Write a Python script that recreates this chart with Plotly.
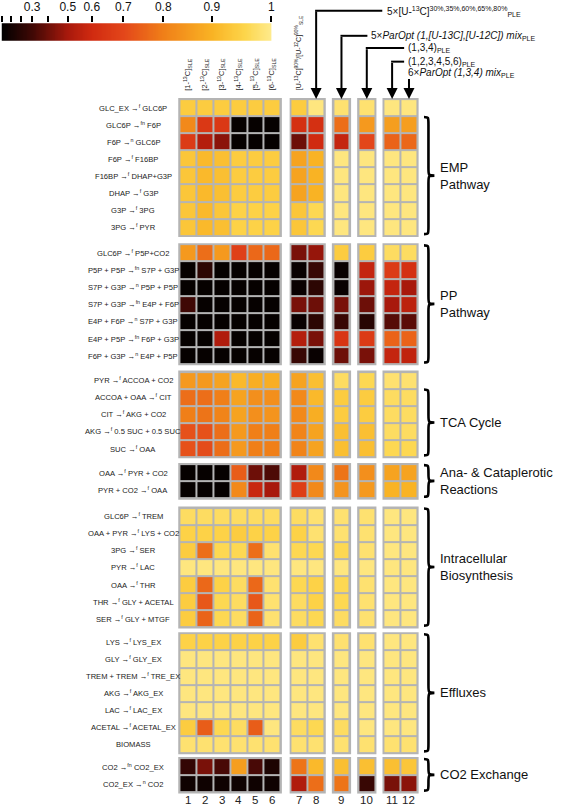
import numpy as np
import plotly.graph_objects as go

# colour key: value -> position along the bar (the key is not linear)
scale_vals = [0, 0.1, 0.2, 0.3, 0.4, 0.5, 0.6, 0.7, 0.8, 0.9, 1]
scale_pos = [0, 0.034, 0.070, 0.113, 0.171, 0.245, 0.334, 0.451, 0.599, 0.779, 1.0]
scale_text = ["0", "", "", "0.3", "", "0.5", "0.6", "0.7", "0.8", "0.9", "1"]

col_numbers = [str(i) for i in range(1, 13)]
col_headers = [
    "[1-<sup>13</sup>C]<sub>SLE</sub>",
    "[2-<sup>13</sup>C]<sub>SLE</sub>",
    "[3-<sup>13</sup>C]<sub>SLE</sub>",
    "[4-<sup>13</sup>C]<sub>SLE</sub>",
    "[5-<sup>13</sup>C]<sub>SLE</sub>",
    "[6-<sup>13</sup>C]<sub>SLE</sub>",
    "[U-<sup>13</sup>C]<sup>90%</sup>/[U-<sup>12</sup>C]<sup>90%</sup><sub>SLE</sub>",
]

F = "→<sup>f</sup>"
FN = "→<sup>fn</sup>"
N = "→<sup>n</sup>"

emp_rows = [
    f"GLC_EX {F} GLC6P", f"GLC6P {FN} F6P", f"F6P {N} GLC6P", f"F6P {F} F16BP",
    f"F16BP {F} DHAP+G3P", f"DHAP {F} G3P", f"G3P {F} 3PG", f"3PG {F} PYR",
]
emp_vals = [
    [0.94, 0.94, 0.94, 0.94, 0.94, 0.94, 0.94, 0.99, 0.98, 0.98, 0.99, 0.99],
    [0.82, 0.65, 0.65, 0.03, 0.03, 0.03, 0.62, 0.62, 0.77, 0.85, 0.86, 0.86],
    [0.66, 0.53, 0.45, 0.03, 0.03, 0.03, 0.40, 0.60, 0.57, 0.70, 0.75, 0.76],
    [0.93, 0.91, 0.92, 0.94, 0.94, 0.94, 0.87, 0.90, 0.99, 0.99, 0.99, 0.99],
    [0.93, 0.91, 0.92, 0.94, 0.94, 0.94, 0.87, 0.90, 0.99, 0.99, 0.99, 0.99],
    [0.93, 0.91, 0.92, 0.94, 0.94, 0.94, 0.87, 0.90, 0.99, 0.99, 0.99, 0.99],
    [0.93, 0.91, 0.93, 0.95, 0.95, 0.95, 0.93, 0.96, 0.99, 0.99, 0.99, 0.99],
    [0.93, 0.91, 0.92, 0.95, 0.95, 0.95, 0.93, 0.96, 0.99, 0.99, 0.99, 0.99],
]

pp_rows = [
    f"GLC6P {F} P5P+CO2", f"P5P + P5P {FN} S7P + G3P", f"S7P + G3P {N} P5P + P5P",
    f"S7P + G3P {FN} E4P + F6P", f"E4P + F6P {N} S7P + G3P",
    f"E4P + P5P {FN} F6P + G3P", f"F6P + G3P {N} E4P + P5P",
]
pp_vals = [
    [0.85, 0.77, 0.85, 0.68, 0.76, 0.76, 0.42, 0.47, 0.94, 0.94, 0.97, 0.97],
    [0.03, 0.22, 0.03, 0.03, 0.03, 0.03, 0.05, 0.27, 0.05, 0.57, 0.66, 0.62],
    [0.03, 0.03, 0.03, 0.03, 0.03, 0.03, 0.05, 0.22, 0.05, 0.48, 0.57, 0.50],
    [0.30, 0.03, 0.03, 0.03, 0.03, 0.03, 0.42, 0.40, 0.42, 0.40, 0.50, 0.55],
    [0.03, 0.03, 0.03, 0.03, 0.03, 0.03, 0.05, 0.22, 0.27, 0.20, 0.35, 0.36],
    [0.03, 0.03, 0.52, 0.03, 0.03, 0.03, 0.53, 0.42, 0.64, 0.66, 0.75, 0.75],
    [0.03, 0.03, 0.03, 0.03, 0.03, 0.03, 0.27, 0.05, 0.40, 0.42, 0.57, 0.56],
]

tca_rows = [
    f"PYR {F} ACCOA + CO2", f"ACCOA + OAA {F} CIT", f"CIT {F} AKG + CO2",
    f"AKG {F} 0.5 SUC + 0.5 SUC", f"SUC {F} OAA",
]
tca_vals = [
    [0.85, 0.85, 0.87, 0.91, 0.89, 0.89, 0.87, 0.92, 0.97, 0.96, 0.98, 0.98],
    [0.77, 0.77, 0.80, 0.87, 0.83, 0.83, 0.82, 0.91, 0.94, 0.94, 0.97, 0.97],
    [0.80, 0.78, 0.81, 0.87, 0.83, 0.84, 0.82, 0.89, 0.94, 0.94, 0.97, 0.97],
    [0.72, 0.72, 0.77, 0.85, 0.80, 0.80, 0.81, 0.87, 0.92, 0.92, 0.97, 0.97],
    [0.72, 0.71, 0.77, 0.85, 0.80, 0.80, 0.81, 0.87, 0.92, 0.92, 0.96, 0.96],
]

ana_rows = [f"OAA {F} PYR + CO2", f"PYR + CO2 {F} OAA"]
ana_vals = [
    [0.03, 0.03, 0.03, 0.74, 0.40, 0.33, 0.52, 0.82, 0.78, 0.83, 0.87, 0.87],
    [0.03, 0.03, 0.03, 0.82, 0.58, 0.50, 0.67, 0.82, 0.84, 0.85, 0.90, 0.90],
]

bio_rows = [
    f"GLC6P {F} TREM", f"OAA + PYR {F} LYS + CO2", f"3PG {F} SER", f"PYR {F} LAC",
    f"OAA {F} THR", f"THR {F} GLY + ACETAL", f"SER {F} GLY + MTGF",
]
bio_vals = [
    [0.97, 0.97, 0.97, 0.97, 0.97, 0.97, 0.97, 0.98, 0.98, 0.98, 0.99, 0.99],
    [0.95, 0.95, 0.95, 0.94, 0.95, 0.95, 0.95, 0.98, 0.98, 0.98, 0.99, 0.99],
    [0.94, 0.77, 0.96, 0.96, 0.77, 0.98, 0.96, 0.96, 0.96, 0.98, 0.99, 0.99],
    [0.99, 0.99, 0.99, 0.99, 0.99, 0.99, 0.99, 0.99, 0.99, 0.99, 0.99, 0.99],
    [0.94, 0.76, 0.95, 0.97, 0.76, 0.98, 0.96, 0.95, 0.96, 0.98, 0.99, 0.99],
    [0.94, 0.73, 0.96, 0.97, 0.73, 0.98, 0.97, 0.95, 0.96, 0.98, 0.99, 0.99],
    [0.94, 0.75, 0.96, 0.97, 0.75, 0.98, 0.97, 0.96, 0.97, 0.98, 0.99, 0.99],
]

eff_rows = [
    f"LYS {F} LYS_EX", f"GLY {F} GLY_EX", f"TREM + TREM {F} TRE_EX", f"AKG {F} AKG_EX",
    f"LAC {F} LAC_EX", f"ACETAL {F} ACETAL_EX", "BIOMASS",
]
eff_vals = [
    [0.95, 0.95, 0.95, 0.95, 0.95, 0.95, 0.94, 0.98, 0.98, 0.98, 0.99, 0.99],
    [0.99, 0.99, 0.99, 0.99, 0.99, 0.99, 0.99, 0.99, 0.99, 0.99, 0.99, 0.99],
    [0.99, 0.99, 0.99, 0.99, 0.99, 0.99, 0.99, 0.99, 0.99, 0.99, 0.99, 0.99],
    [0.99, 0.99, 0.99, 0.99, 0.99, 0.99, 0.99, 0.99, 0.99, 0.99, 0.99, 0.99],
    [0.99, 0.99, 0.99, 0.99, 0.99, 0.99, 0.99, 0.99, 0.99, 0.99, 0.99, 0.99],
    [0.94, 0.74, 0.96, 0.97, 0.74, 0.99, 0.97, 0.96, 0.97, 0.99, 0.99, 0.99],
    [0.98, 0.98, 0.98, 0.98, 0.98, 0.98, 0.98, 0.98, 0.98, 0.98, 0.98, 0.98],
]

co2_rows = [f"CO2 {FN} CO2_EX", f"CO2_EX {N} CO2"]
co2_vals = [
    [0.25, 0.42, 0.32, 0.86, 0.32, 0.15, 0.78, 0.91, 0.92, 0.92, 0.92, 0.93],
    [0.08, 0.08, 0.08, 0.08, 0.08, 0.08, 0.52, 0.77, 0.78, 0.27, 0.42, 0.45],
]

group_labels = [
    "EMP<br>Pathway", "PP<br>Pathway", "TCA Cycle", "Ana- & Cataplerotic<br>Reactions",
    "Intracellular<br>Biosynthesis", "Effluxes", "CO2 Exchange",
]
blocks = [
    (emp_rows, emp_vals), (pp_rows, pp_vals), (tca_rows, tca_vals), (ana_rows, ana_vals),
    (bio_rows, bio_vals), (eff_rows, eff_vals), (co2_rows, co2_vals),
]

top_labels = [
    "5×[U-<sup>13</sup>C]<sup>30%,35%,60%,65%,80%</sup><sub>PLE</sub>",
    "5×<i>ParOpt (1,[U-13C],[U-12C]) mix</i><sub>PLE</sub>",
    "(1,3,4)<sub>PLE</sub>",
    "(1,2,3,4,5,6)<sub>PLE</sub>",
    "6×<i>ParOpt (1,3,4) mix</i><sub>PLE</sub>",
]

# ---- layout geometry (pixels -> axis units) ----
W, H = 567, 806
X0_PX, CELL_W = 180.7, 17.0
Y0_PX, CELL_H = 94.7, 17.2


def px2x(p):
    return (p - X0_PX) / CELL_W


def px2y(p):
    return (p - Y0_PX) / CELL_H


col_starts = [0, 1, 2, 3, 4, 5, 6.6, 7.6, 9.1, 10.6, 12.1, 13.1]
col_groups = [(0, 6), (6.6, 8.6), (9.1, 10.1), (10.6, 11.6), (12.1, 14.1)]
block_gaps = [0.506, 0.436, 0.419, 0.54, 0.36, 0.297]
brace_start = [1, 0, 1, 0, 0, 0, 0]

cs_colors = ["#000000", "#3f0805", "#a8190c", "#d02a10", "#e3461a",
             "#f07f18", "#f9b324", "#fdd54a", "#feeb8e"]
cs_pos = [0.0, 0.113, 0.245, 0.334, 0.451, 0.599, 0.779, 0.9, 1.0]
colorscale = [[p, c] for p, c in zip(cs_pos, cs_colors)]

# x bins (gap bins left empty)
x_edges = sorted(set(col_starts + [c + 1 for c in col_starts]))
x_map = [col_starts.index(e) if e in col_starts else None for e in x_edges[:-1]]

y_edges = [0.0]
z = []
row_y = []
block_spans = []
for b, (rows, vals) in enumerate(blocks):
    if b > 0:
        y_edges.append(y_edges[-1] + block_gaps[b - 1])
        z.append([None] * len(x_map))
    top = y_edges[-1]
    for r, v in enumerate(vals):
        row_y.append(y_edges[-1] + 0.5)
        y_edges.append(y_edges[-1] + 1)
        pos = np.interp(v, scale_vals, scale_pos)
        z.append([None if m is None else pos[m] for m in x_map])
    block_spans.append((top, y_edges[-1]))

fig = go.Figure()

fig.add_trace(go.Heatmap(
    x=x_edges, y=y_edges, z=z, colorscale=colorscale, zmin=0, zmax=1,
    showscale=False, xgap=2, ygap=2, hoverinfo="skip",
))

# key bar
grad = np.linspace(0, 1, 300)
fig.add_trace(go.Heatmap(
    x=grad, y=[0, 1], z=[grad, grad], colorscale=colorscale, zmin=0, zmax=1,
    showscale=False, hoverinfo="skip", xaxis="x2", yaxis="y2",
))

shapes = []
ann = []
font = "Liberation Sans, Arial, sans-serif"

# grey frame behind every block of cells
for top, bot in block_spans:
    for xa, xb in col_groups:
        shapes.append(dict(type="rect", xref="x", yref="y", x0=xa - 0.07, x1=xb + 0.07,
                           y0=top - 0.07, y1=bot + 0.07, fillcolor="#b4b4b4",
                           line=dict(width=0), layer="below"))

# row labels
labels_all = [lab for rows, _ in blocks for lab in rows]
for lab, yy in zip(labels_all, row_y):
    ann.append(dict(x=px2x(134), y=yy, text=lab, showarrow=False, xanchor="center",
                    yanchor="middle", font=dict(size=7.6, color="#222", family=font)))

# column headers
col_centers = [c + 0.5 for c in col_starts]
for i, txt in enumerate(col_headers):
    ann.append(dict(x=col_centers[i], y=px2y(88), text=txt, showarrow=False,
                    textangle=-90, xanchor="center", yanchor="bottom",
                    font=dict(size=7 if i == 6 else 7.5, color="#222", family=font)))

# column numbers
for i, txt in enumerate(col_numbers):
    ann.append(dict(x=col_centers[i], y=px2y(800), text=txt, showarrow=False,
                    xanchor="center", yanchor="middle",
                    font=dict(size=11.5, color="#222", family=font)))

# braces + group names
bx0, bx1, bx2 = px2x(427), px2x(431.5), px2x(437.5)
for b, (top, bot) in enumerate(block_spans):
    yt = top + brace_start[b] + 0.05
    yb = bot - 0.1
    ym = (yt + yb) / 2
    d = min(0.45, (yb - yt) / 4)
    path = (f"M {bx0},{yt} C {bx1},{yt} {bx1},{yt} {bx1},{yt + d} "
            f"L {bx1},{ym - d} C {bx1},{ym} {bx1},{ym} {bx2},{ym} "
            f"C {bx1},{ym} {bx1},{ym} {bx1},{ym + d} "
            f"L {bx1},{yb - d} C {bx1},{yb} {bx1},{yb} {bx0},{yb}")
    shapes.append(dict(type="path", xref="x", yref="y", path=path,
                       line=dict(color="black", width=2.6)))
    ann.append(dict(x=px2x(441), y=ym, text=group_labels[b], showarrow=False,
                    xanchor="left", yanchor="middle", align="left",
                    font=dict(size=13, color="#111", family=font)))

# top arrows pointing at the PLE columns
arrow_cols = [7, 8, 9, 10, 11]
tail_px = [5.7, 31, 43.3, 57, 73]
line_end_px = [385, 370, 407, 407, None]
text_px = [(388, 7), (372, 31), (409, 43.3), (409, 57), (409, 68)]
grid_top = px2y(94.5)
for k, c in enumerate(arrow_cols):
    xc = col_centers[c]
    ann.append(dict(x=xc, y=grid_top, ax=0, ay=-(94.5 - tail_px[k]), text="",
                    showarrow=True, arrowhead=2, arrowsize=1.1, arrowwidth=2,
                    arrowcolor="black"))
    if line_end_px[k] is not None:
        shapes.append(dict(type="line", xref="x", yref="y", x0=xc - 0.06,
                           x1=px2x(line_end_px[k]), y0=px2y(tail_px[k]),
                           y1=px2y(tail_px[k]), line=dict(color="black", width=2)))
    ann.append(dict(x=px2x(text_px[k][0]), y=px2y(text_px[k][1]), text=top_labels[k],
                    showarrow=False, xanchor="left", yanchor="middle",
                    font=dict(size=10, color="#111", family=font)))

fig.update_layout(
    width=W, height=H, margin=dict(l=0, r=0, t=0, b=0),
    paper_bgcolor="white", plot_bgcolor="white",
    xaxis=dict(domain=[0, 1], range=[px2x(0), px2x(W)], visible=False),
    yaxis=dict(domain=[0, 1], range=[px2y(H), px2y(0)], visible=False),
    xaxis2=dict(domain=[1.7 / W, 273.3 / W], anchor="y2", range=[0, 1], side="top",
                tickmode="array", tickvals=scale_pos, ticktext=scale_text,
                ticks="outside", ticklen=6, tickwidth=2, tickcolor="black",
                showgrid=False, zeroline=False, showline=False,
                tickfont=dict(size=12, color="#111", family=font)),
    yaxis2=dict(domain=[(H - 36) / H, (H - 18.3) / H], anchor="x2", range=[0, 1],
                visible=False),
    shapes=shapes, annotations=ann, showlegend=False,
)

# the page body carries a default margin; drop it so the figure sits at 0,0
fig.write_html("out.html", config={"displayModeBar": False},
               post_script="document.body.style.margin='0px';")
